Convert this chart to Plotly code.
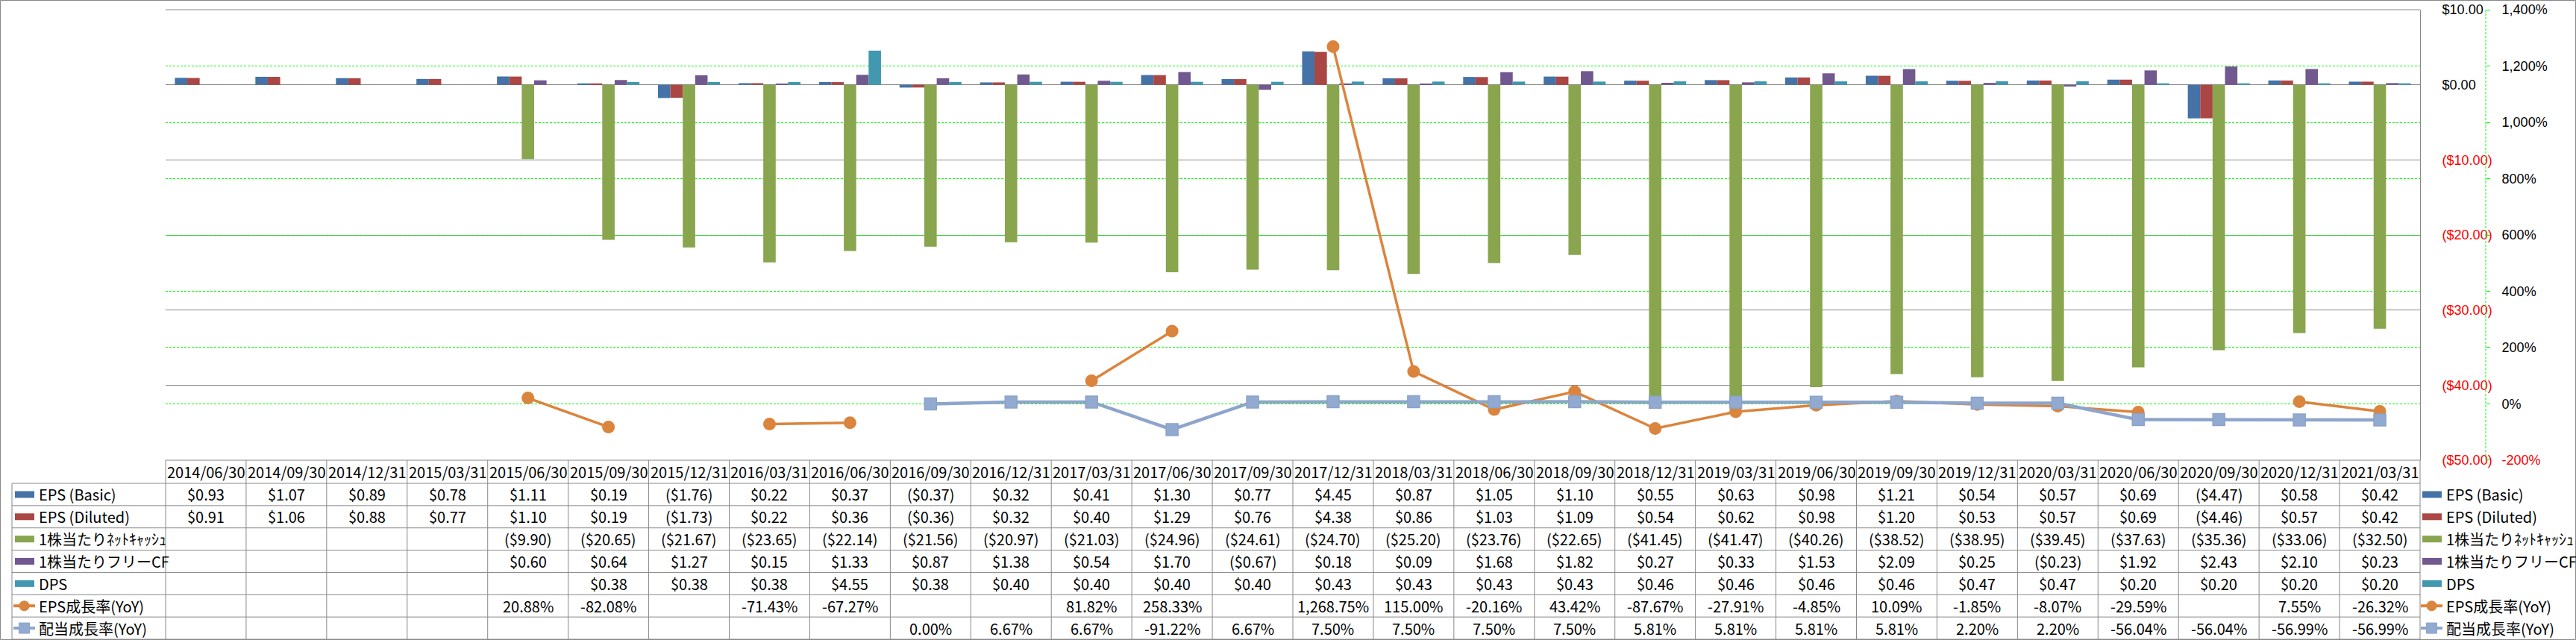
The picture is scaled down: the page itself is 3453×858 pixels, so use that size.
import plotly.graph_objects as go

# ---------------- data ----------------
dates = ["2014/06/30", "2014/09/30", "2014/12/31", "2015/03/31", "2015/06/30", "2015/09/30",
         "2015/12/31", "2016/03/31", "2016/06/30", "2016/09/30", "2016/12/31", "2017/03/31",
         "2017/06/30", "2017/09/30", "2017/12/31", "2018/03/31", "2018/06/30", "2018/09/30",
         "2018/12/31", "2019/03/31", "2019/06/30", "2019/09/30", "2019/12/31", "2020/03/31",
         "2020/06/30", "2020/09/30", "2020/12/31", "2021/03/31"]

eps_basic = [0.93, 1.07, 0.89, 0.78, 1.11, 0.19, -1.76, 0.22, 0.37, -0.37, 0.32, 0.41, 1.30, 0.77,
             4.45, 0.87, 1.05, 1.10, 0.55, 0.63, 0.98, 1.21, 0.54, 0.57, 0.69, -4.47, 0.58, 0.42]
eps_diluted = [0.91, 1.06, 0.88, 0.77, 1.10, 0.19, -1.73, 0.22, 0.36, -0.36, 0.32, 0.40, 1.29, 0.76,
               4.38, 0.86, 1.03, 1.09, 0.54, 0.62, 0.98, 1.20, 0.53, 0.57, 0.69, -4.46, 0.57, 0.42]
net_cash = [None, None, None, None, -9.90, -20.65, -21.67, -23.65, -22.14, -21.56, -20.97, -21.03,
            -24.96, -24.61, -24.70, -25.20, -23.76, -22.65, -41.45, -41.47, -40.26, -38.52, -38.95,
            -39.45, -37.63, -35.36, -33.06, -32.50]
free_cf = [None, None, None, None, 0.60, 0.64, 1.27, 0.15, 1.33, 0.87, 1.38, 0.54, 1.70, -0.67,
           0.18, 0.09, 1.68, 1.82, 0.27, 0.33, 1.53, 2.09, 0.25, -0.23, 1.92, 2.43, 2.10, 0.23]
dps = [None, None, None, None, None, 0.38, 0.38, 0.38, 4.55, 0.38, 0.40, 0.40, 0.40, 0.40,
       0.43, 0.43, 0.43, 0.43, 0.46, 0.46, 0.46, 0.46, 0.47, 0.47, 0.20, 0.20, 0.20, 0.20]
eps_growth = [None, None, None, None, 20.88, -82.08, None, -71.43, -67.27, None, None, 81.82,
              258.33, None, 1268.75, 115.00, -20.16, 43.42, -87.67, -27.91, -4.85, 10.09, -1.85,
              -8.07, -29.59, None, 7.55, -26.32]
div_growth = [None, None, None, None, None, None, None, None, None, 0.00, 6.67, 6.67, -91.22, 6.67,
              7.50, 7.50, 7.50, 7.50, 5.81, 5.81, 5.81, 5.81, 2.20, 2.20, -56.04, -56.04, -56.99,
              -56.99]

usd_ticks = [10, 0, -10, -20, -30, -40, -50]
pct_ticks = [1400, 1200, 1000, 800, 600, 400, 200, 0, -200]

bar_names = ["EPS (Basic)", "EPS (Diluted)", "1株当たりﾈｯﾄｷｬｯｼｭ", "1株当たりフリーCF", "DPS"]
bar_series = [eps_basic, eps_diluted, net_cash, free_cf, dps]
bar_colors = ["#4572A7", "#AA4643", "#89A54E", "#71588F", "#4198AF"]
line_names = ["EPS成長率(YoY)", "配当成長率(YoY)"]
line_series = [eps_growth, div_growth]
line_colors = ["#DB843D", "#8EA5CB"]

# ---------------- helpers ----------------
W, H = 3453, 858
FONT = "Noto Sans CJK JP, Liberation Sans, sans-serif"
TICKFONT = "Liberation Sans, Arial, sans-serif"
GRAY = "#888888"


def X(p):
    return p / W


def Y(p):
    return 1 - p / H


def fmt_usd(v):
    if v is None:
        return ""
    return f"(${abs(v):,.2f})" if v < 0 else f"${v:,.2f}"


def fmt_pct(v):
    if v is None:
        return ""
    return f"{v:,.2f}%"


def red(t):
    return f'<span style="color:#FF0000">{t}</span>'


PL, PR, PT, PB = 222, 3244, 13, 617
EPS_R = 1e-4

fig = go.Figure()

for name, vals, col in zip(bar_names, bar_series, bar_colors):
    fig.add_trace(go.Bar(x=dates, y=vals, name=name, marker=dict(color=col, line=dict(width=0)),
                         yaxis="y", hoverinfo="skip"))

fig.add_trace(go.Scatter(x=dates, y=eps_growth, name=line_names[0], yaxis="y2", mode="lines+markers",
                         line=dict(color=line_colors[0], width=3.5),
                         marker=dict(symbol="circle", size=17, color=line_colors[0]),
                         connectgaps=False, hoverinfo="skip"))
fig.add_trace(go.Scatter(x=dates, y=div_growth, name=line_names[1], yaxis="y2", mode="lines+markers",
                         line=dict(color=line_colors[1], width=4.5),
                         marker=dict(symbol="square", size=16, color="#93AAD0",
                                     line=dict(color="#8BA2C8", width=1.5)),
                         connectgaps=False, hoverinfo="skip"))

usd_text = [fmt_usd(v) if v >= 0 else red(fmt_usd(v)) for v in usd_ticks]
pct_text = [f"{v:,}%" if v >= 0 else red(f"{v:,}%") for v in pct_ticks]

fig.update_layout(
    width=W, height=H, autosize=False,
    margin=dict(l=0, r=0, t=0, b=0, pad=0),
    paper_bgcolor="white", plot_bgcolor="white",
    showlegend=False,
    barmode="group", bargap=0.23, bargroupgap=0,
    font=dict(family=FONT, size=20, color="#000000"),
    xaxis=dict(domain=[X(PL), X(PR)], type="category", range=[-0.5, len(dates) - 0.5],
               showticklabels=False, showgrid=False, zeroline=False, showline=False, ticks="",
               automargin=False, fixedrange=True),
    yaxis=dict(domain=[Y(PB), Y(PT)], range=[-50 - 50 * EPS_R, 10 + 50 * EPS_R], side="right",
               tickvals=usd_ticks, ticktext=usd_text, ticks="", ticklabelstandoff=25,
               ticklabeloverflow="allow",
               showgrid=True, gridcolor=GRAY, gridwidth=1,
               zeroline=True, zerolinecolor=GRAY, zerolinewidth=1,
               showline=True, linecolor=GRAY, linewidth=1,
               tickfont=dict(family=TICKFONT, size=18, color="#000000"), automargin=False, fixedrange=True),
    yaxis2=dict(overlaying="y", anchor="free", position=X(3332), side="right",
                range=[-200 - 1600 * EPS_R, 1400 + 1600 * EPS_R], tickvals=pct_ticks, ticktext=pct_text,
                ticks="outside", ticklen=5, tickwidth=1, tickcolor="#00FF00",
                ticklabelstandoff=12, ticklabeloverflow="allow",
                showgrid=True, gridcolor="#00FF00", gridwidth=1, griddash="3px,2px",
                zeroline=False, showline=False,
                tickfont=dict(family=TICKFONT, size=18, color="#000000"), automargin=False, fixedrange=True),
)

shapes = []
annotations = []

# top border of plot area (the $10 gridline)
shapes.append(dict(type="line", xref="paper", yref="paper", x0=X(PL), x1=X(PR), y0=Y(PT), y1=Y(PT),
                   line=dict(color=GRAY, width=1), layer="below"))

# dashed secondary axis line
shapes.append(dict(type="line", xref="paper", yref="paper", x0=X(3332), x1=X(3332), y0=Y(PT), y1=Y(PB),
                   line=dict(color="#00FF00", width=1, dash="3px,2px")))

# outer border
shapes.append(dict(type="rect", xref="paper", yref="paper", x0=X(0.5), x1=X(W - 0.5), y0=Y(0.5),
                   y1=Y(H - 0.5), line=dict(color=GRAY, width=1)))

# ---------------- data table ----------------
n = len(dates)
col_w = (PR - PL) / n
hdr_top, hdr_bot = 617, 648
row_h = (857 - hdr_bot) / 7
row_bounds = [hdr_bot + k * row_h for k in range(8)]
LEG_L = 16

shapes.append(dict(type="line", xref="paper", yref="paper", x0=X(PL), x1=X(PR), y0=Y(hdr_top), y1=Y(hdr_top),
                   line=dict(color=GRAY, width=1)))
for yb in row_bounds:
    shapes.append(dict(type="line", xref="paper", yref="paper", x0=X(LEG_L), x1=X(PR), y0=Y(yb), y1=Y(yb),
                       line=dict(color=GRAY, width=1)))
for i in range(n + 1):
    xx = PL + i * col_w
    shapes.append(dict(type="line", xref="paper", yref="paper", x0=X(xx), x1=X(xx), y0=Y(hdr_top),
                       y1=Y(row_bounds[-1]), line=dict(color=GRAY, width=1)))
shapes.append(dict(type="line", xref="paper", yref="paper", x0=X(LEG_L), x1=X(LEG_L), y0=Y(hdr_bot),
                   y1=Y(row_bounds[-1]), line=dict(color=GRAY, width=1)))

for i, d in enumerate(dates):
    annotations.append(dict(xref="paper", yref="paper", x=X(PL + (i + 0.5) * col_w), y=Y((hdr_top + hdr_bot) / 2),
                            text=d, showarrow=False, xanchor="center", yanchor="middle",
                            font=dict(family=FONT, size=20, color="#000000")))

row_texts = [[fmt_usd(v) for v in s] for s in bar_series] + [[fmt_pct(v) for v in s] for s in line_series]
all_names = bar_names + line_names
all_colors = bar_colors + line_colors

for r in range(7):
    yc = (row_bounds[r] + row_bounds[r + 1]) / 2
    for i in range(n):
        t = row_texts[r][i]
        if t:
            annotations.append(dict(xref="paper", yref="paper", x=X(PL + (i + 0.5) * col_w), y=Y(yc),
                                    text=t, showarrow=False, xanchor="center", yanchor="middle",
                                    font=dict(family=FONT, size=20, color="#000000")))


def legend_key(x0, yc, r, name, color):
    if r < 5:
        shapes.append(dict(type="rect", xref="paper", yref="paper", x0=X(x0), x1=X(x0 + 26),
                           y0=Y(yc - 4.5), y1=Y(yc + 4.5), fillcolor=color, line=dict(width=0)))
    else:
        shapes.append(dict(type="line", xref="paper", yref="paper", x0=X(x0 - 2), x1=X(x0 + 27),
                           y0=Y(yc), y1=Y(yc), line=dict(color=color, width=4)))
        cx = x0 + 12.5
        if r == 5:
            shapes.append(dict(type="circle", xref="paper", yref="paper", x0=X(cx - 7), x1=X(cx + 7),
                               y0=Y(yc - 7), y1=Y(yc + 7), fillcolor=color, line=dict(width=0)))
        else:
            shapes.append(dict(type="rect", xref="paper", yref="paper", x0=X(cx - 7), x1=X(cx + 7),
                               y0=Y(yc - 7), y1=Y(yc + 7), fillcolor="#93AAD0",
                               line=dict(color="#8BA2C8", width=1)))
    annotations.append(dict(xref="paper", yref="paper", x=X(x0 + 30), y=Y(yc), text=name, showarrow=False,
                            xanchor="left", yanchor="middle",
                            font=dict(family=FONT, size=20, color="#000000")))


for r in range(7):
    yc = (row_bounds[r] + row_bounds[r + 1]) / 2
    legend_key(20, yc, r, all_names[r], all_colors[r])
    legend_key(3247, yc, r, all_names[r], all_colors[r])

fig.update_layout(shapes=shapes, annotations=annotations)

fig.write_html("out.html")
